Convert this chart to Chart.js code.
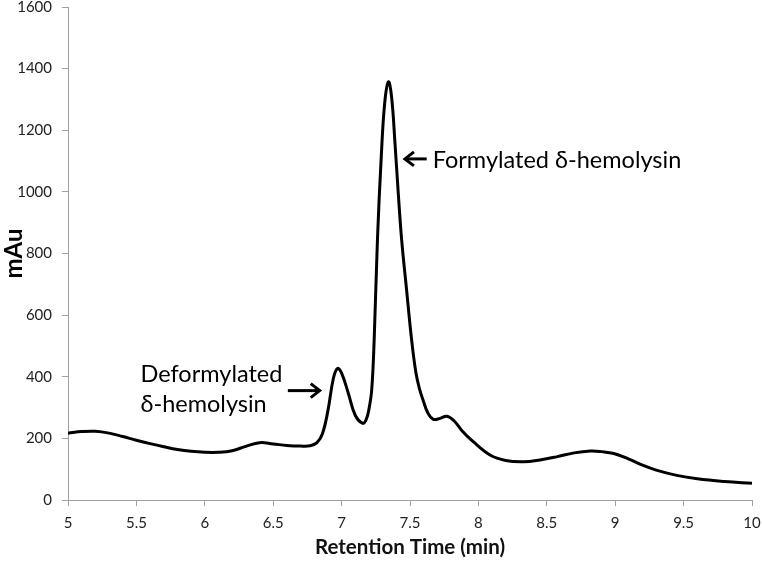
<!DOCTYPE html>
<html>
<head>
<meta charset="utf-8">
<script src="https://cdn.jsdelivr.net/npm/chart.js@4.4.1/dist/chart.umd.min.js"></script>
<style>
  html, body { margin: 0; padding: 0; background: #fff; }
  #wrap { width: 762px; height: 564px; }
</style>
</head>
<body>
<div id="wrap"><canvas id="myChart" width="762" height="564"></canvas></div>
<script>
// retention time (min) and absorbance (mAu)
var times = [5.0, 5.1, 5.2, 5.3, 5.4, 5.5, 5.6, 5.7, 5.8, 5.9, 6.0, 6.1, 6.2, 6.3, 6.4, 6.5, 6.6, 6.7, 6.77, 6.82,
  6.86, 6.9, 6.94, 6.97, 7.0, 7.05, 7.1, 7.154, 7.18, 7.2, 7.22, 7.238, 7.262, 7.29, 7.315, 7.342, 7.365, 7.39, 7.415, 7.439,
  7.475, 7.512, 7.544, 7.57, 7.597, 7.63, 7.67, 7.72, 7.77, 7.82, 7.88, 7.96, 8.085, 8.2, 8.33, 8.45, 8.57, 8.7, 8.82, 8.9,
  8.99, 9.1, 9.2, 9.3, 9.45, 9.6, 9.8, 10.0];
var mau = [217, 222, 223, 217, 206, 194, 183, 173, 164, 158, 155, 155, 160, 174, 186, 182, 177, 175, 176, 186,
  215, 290, 395, 427, 412, 345, 275, 249, 262, 295, 357, 519, 844, 1115, 1288, 1357, 1310, 1160, 990, 844,
  682, 519, 411, 360, 322, 283, 262, 265, 272, 258, 225, 190, 146, 128, 124, 130, 140, 153, 159, 157,
  151, 133, 113, 97, 80, 69, 60, 54];

var xTicks = [5, 5.5, 6, 6.5, 7, 7.5, 8, 8.5, 9, 9.5, 10];
var yTicks = [0, 200, 400, 600, 800, 1000, 1200, 1400, 1600];

var deformLabel = ["Deformylated", "\u03b4-hemolysin"];
var formLabel = "Formylated \u03b4-hemolysin";

var fontName = "Lato, 'Open Sans', sans-serif";
var axisGray = "#a0a0a0";

var pts = times.map(function(t, i){ return {x: t, y: mau[i]}; });

function drawArrow(ctx, x1, y1, x2, y2){
    var dir = x2 > x1 ? 1 : -1;
    ctx.beginPath();
    ctx.moveTo(x1, y1);
    ctx.lineTo(x2 - dir*2, y2);
    ctx.stroke();
    ctx.beginPath();
    ctx.moveTo(x2 - dir*9, y2 - 7);
    ctx.lineTo(x2, y2);
    ctx.lineTo(x2 - dir*9, y2 + 7);
    ctx.stroke();
}

// text + arrows placed in data units
const callouts = {
    id: "callouts",
    afterDatasetsDraw(chart){
        const ctx = chart.ctx;
        const xs = chart.scales.x, ys = chart.scales.y;
        ctx.save();
        ctx.fillStyle = "#000";
        ctx.strokeStyle = "#000";
        ctx.lineWidth = 3;
        ctx.font = "23.5px " + fontName;
        ctx.textBaseline = "alphabetic";
        ctx.textAlign = "left";
        ctx.fillText(deformLabel[0], xs.getPixelForValue(5.53), ys.getPixelForValue(383));
        ctx.fillText(deformLabel[1], xs.getPixelForValue(5.53), ys.getPixelForValue(286));
        drawArrow(ctx, xs.getPixelForValue(6.607), ys.getPixelForValue(355), xs.getPixelForValue(6.84), ys.getPixelForValue(355));
        ctx.fillText(formLabel, xs.getPixelForValue(7.666), ys.getPixelForValue(1077));
        drawArrow(ctx, xs.getPixelForValue(7.622), ys.getPixelForValue(1107), xs.getPixelForValue(7.463), ys.getPixelForValue(1107));
        ctx.restore();
    }
};

const config = {
    type: "line",
    data: {
        datasets: [{
            label: "mAu",
            data: pts,
            borderColor: "#000",
            borderWidth: 3,
            pointRadius: 0,
            fill: false,
            tension: 0.4
        }]
    },
    options: {
        responsive: false,
        animation: false,
        layout: { padding: { top: 0, right: 0, left: 0, bottom: 0 } },
        plugins: {
            legend: { display: false },
            tooltip: { enabled: false }
        },
        scales: {
            x: {
                type: "linear",
                min: 5,
                max: 10,
                afterBuildTicks: function(scale){ scale.ticks = xTicks.map(function(v){ return {value: v}; }); },
                afterFit: function(scale){ scale.height = 64; scale.paddingRight = 10; scale.paddingLeft = 0; },
                grid: { display: true, drawOnChartArea: false, drawTicks: true, tickLength: 6, color: axisGray },
                border: { color: axisGray, width: 1 },
                ticks: { color: "#222", font: { family: fontName, size: 15 }, padding: 8, maxRotation: 0,
                         callback: function(v){ return String(v); } },
                title: { display: true, text: "Retention Time (min)", color: "#111", font: { family: fontName, size: 20.5, weight: "bold" }, padding: { top: 5 } }
            },
            y: {
                min: 0,
                max: 1600,
                afterBuildTicks: function(scale){ scale.ticks = yTicks.map(function(v){ return {value: v}; }); },
                afterFit: function(scale){ scale.width = 68; scale.paddingTop = 7; scale.paddingBottom = 0; },
                grid: { display: true, drawOnChartArea: false, drawTicks: true, tickLength: 6, color: axisGray },
                border: { color: axisGray, width: 1 },
                ticks: { color: "#222", font: { family: fontName, size: 15 }, padding: 10,
                         callback: function(v){ return String(v); } },
                title: { display: true, text: "mAu", color: "#000", font: { family: fontName, size: 24, weight: "bold" }, padding: 0 }
            }
        }
    },
    plugins: [callouts]
};

let mychart = new Chart(document.getElementById("myChart").getContext("2d"), config);
</script>
</body>
</html>
